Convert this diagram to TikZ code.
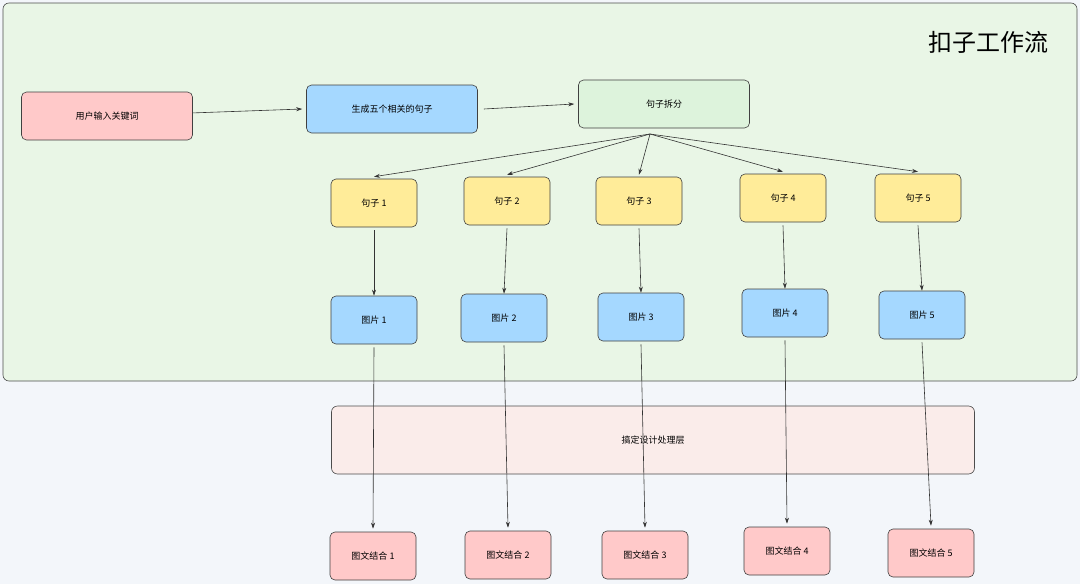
\documentclass[tikz,border=0pt]{standalone}
\usepackage{fontspec}
\setmainfont{Noto Sans CJK SC}
\usetikzlibrary{arrows.meta,patterns}
\definecolor{bg}{HTML}{F3F6FA}
\definecolor{grn}{HTML}{E9F6E6}
\definecolor{pinkf}{HTML}{FFC9C9}
\definecolor{bluef}{HTML}{A5D8FF}
\definecolor{yelf}{HTML}{FFEC99}
\definecolor{lgrn}{HTML}{DDF3DC}
\definecolor{lpink}{HTML}{FAECEA}
\begin{document}
\begin{tikzpicture}[x=1pt,y=-1pt,
 box/.style={draw=black!75,rounded corners=5pt,minimum width=86pt,minimum height=48pt,font=\fontsize{9}{10}\selectfont,line width=0.6pt},
 wide/.style={box,minimum width=171pt},
 arr/.style={-{Stealth[length=6pt,width=4pt]},draw=black!80,line width=0.6pt}]
\useasboundingbox (0,0) rectangle (1080,584);
\fill[bg] (0,0) rectangle (1080,584);
\draw[draw=black!70,fill=grn,rounded corners=6pt,line width=0.6pt] (3,3) rectangle (1077,381);
\node[font=\fontsize{24}{26}\selectfont] (title) at (988,42) {扣子工作流};
\node[draw=black!70,fill=lpink,rounded corners=6pt,minimum width=643pt,minimum height=68pt,font=\fontsize{9}{10}\selectfont,line width=0.6pt] (layer) at (653,440) {搞定设计处理层};
\node[wide,fill=pinkf] (u) at (107,116) {用户输入关键词};
\node[wide,fill=bluef] (g) at (392,109) {生成五个相关的句子};
\node[wide,fill=lgrn] (s) at (664,104) {句子拆分};
\coordinate (sp) at (650,134);
\draw[arr] (u) -- ([xshift=-4pt]g.west);
\draw[arr] ([xshift=6pt]g.east) -- ([xshift=-4pt]s.west);
\foreach \i/\xa/\ya/\xb/\yb/\xc/\yc in {1/374/203/374/320/373/556, 2/507/201/504/318/508/555, 3/639/201/641/317/645/555, 4/783/198/785/313/787/551, 5/918/198/922/315/931/553}{
  \node[box,fill=yelf] (j\i) at (\xa,\ya) {句子 \i};
  \node[box,fill=bluef] (p\i) at (\xb,\yb) {图片 \i};
  \node[box,fill=pinkf] (t\i) at (\xc,\yc) {图文结合 \i};
  \draw[arr] (sp) -- ([yshift=2pt]j\i.north);
  \draw[arr] ([yshift=-3pt]j\i.south) -- (p\i.north);
  \draw[arr] ([yshift=-3pt]p\i.south) -- ([yshift=3pt]t\i.north);
}
\end{tikzpicture}
\end{document}
